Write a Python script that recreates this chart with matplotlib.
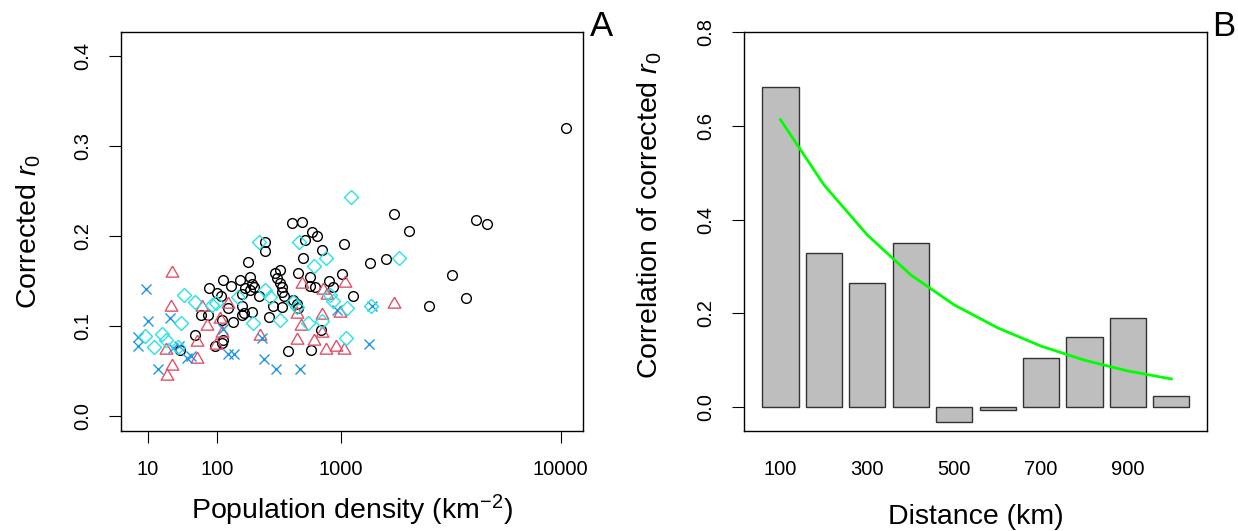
import numpy as np
import matplotlib
matplotlib.use('Agg')
import matplotlib.pyplot as plt
from matplotlib.ticker import NullLocator

plt.rcParams['font.family'] = 'Liberation Sans'
plt.rcParams['mathtext.fontset'] = 'custom'
plt.rcParams['mathtext.rm'] = 'Liberation Sans'
plt.rcParams['mathtext.it'] = 'Liberation Sans:italic'

# panel A: population density (km^-2) vs corrected r0, four groups
black_x = [464, 549, 645, 704, 579, 285, 285, 760, 1043, 564, 203, 1479, 345, 378, 358, 378, 391,
           519, 628, 628, 680, 844, 895, 1010, 1177, 80, 116, 138, 98, 109, 170, 211, 219, 229,
           190, 177, 211, 255, 130, 179, 64, 79, 111, 144, 177, 187, 221, 310, 334, 389, 394,
           406, 477, 505, 514, 745, 54, 116, 111, 94, 34, 433, 638, 1990, 2371, 1807, 3780,
           4334, 2945, 10430, 4776, 5299]
black_y = [0.214, 0.215, 0.205, 0.200, 0.196, 0.193, 0.183, 0.184, 0.191, 0.176, 0.171, 0.170,
           0.159, 0.162, 0.153, 0.148, 0.143, 0.159, 0.154, 0.144, 0.143, 0.150, 0.143, 0.158,
           0.133, 0.142, 0.151, 0.144, 0.137, 0.133, 0.151, 0.154, 0.147, 0.143, 0.142, 0.136,
           0.140, 0.133, 0.120, 0.122, 0.112, 0.112, 0.107, 0.105, 0.112, 0.114, 0.116, 0.110,
           0.122, 0.121, 0.138, 0.133, 0.129, 0.124, 0.120, 0.096, 0.090, 0.085, 0.081, 0.078,
           0.073, 0.072, 0.074, 0.224, 0.206, 0.175, 0.157, 0.131, 0.122, 0.320, 0.218, 0.213]

cyan_x = [1145, 255, 528, 804, 669, 2119, 38.8, 54, 96, 285, 314, 477, 505, 853, 895, 1083,
          35.2, 223, 381, 611, 753, 1073, 8.7, 13.1, 17.7, 20.9, 32.2, 1507, 164, 86]
cyan_y = [0.243, 0.193, 0.193, 0.176, 0.167, 0.176, 0.134, 0.127, 0.126, 0.140, 0.132, 0.127,
          0.121, 0.135, 0.128, 0.120, 0.103, 0.104, 0.107, 0.104, 0.106, 0.087, 0.089, 0.077,
          0.091, 0.085, 0.077, 0.122, 0.132, 0.123]

red_x = [26.3, 24.6, 65.9, 130, 75.5, 106.6, 259, 111, 58.1, 96, 58, 25.7, 20.9, 21.3, 555,
         1061, 772, 986, 505, 547, 753, 760, 505, 669, 804, 925, 1046, 1990, 820]
red_y = [0.159, 0.121, 0.121, 0.124, 0.100, 0.108, 0.089, 0.092, 0.082, 0.079, 0.064, 0.056,
         0.074, 0.045, 0.147, 0.148, 0.140, 0.115, 0.113, 0.100, 0.112, 0.092, 0.085, 0.084,
         0.074, 0.077, 0.074, 0.124, 0.134]

blue_x = [8.94, 10.1, 24.2, 6.33, 6.07, 15.5, 26.4, 33.0, 42.7, 48.2, 130, 150, 269, 280, 351,
          530, 941, 1517, 1465, 116]
blue_y = [0.141, 0.106, 0.109, 0.088, 0.078, 0.052, 0.076, 0.078, 0.065, 0.067, 0.069, 0.069,
          0.087, 0.063, 0.052, 0.052, 0.118, 0.122, 0.080, 0.097]

# panel B: correlation by distance class
distance = [100, 200, 300, 400, 500, 600, 700, 800, 900, 1000]
correlation = [0.683, 0.328, 0.264, 0.350, -0.032, -0.006, 0.105, 0.149, 0.190, 0.024]
fitted = [0.613, 0.474, 0.367, 0.282, 0.218, 0.169, 0.130, 0.100, 0.077, 0.060]
dist_labels = [100, 300, 500, 700, 900]

fig = plt.figure(figsize=(12.38, 5.31), dpi=100)
W, H = 1238, 531

# equilateral triangle like R's pch 2
tri = [(0, 0.577), (-0.5, -0.289), (0.5, -0.289), (0, 0.577)]

ax1 = fig.add_axes([121 / W, 1 - 431 / H, 462 / W, 399 / H])
ax1.set_xscale('function', functions=(lambda x: np.power(np.clip(x, 0, None), 0.25),
                                      lambda u: np.power(u, 4)))
ms = dict(linestyle='none', markerfacecolor='none', markeredgewidth=1.0)
ax1.plot(black_x, black_y, marker='o', markersize=7, markeredgecolor='black', **ms)
ax1.plot(red_x, red_y, marker=tri, markersize=10.5, markeredgecolor='#DF536B', **ms)
ax1.plot(blue_x, blue_y, marker='x', markersize=7, markeredgecolor='#2297E6', **ms)
ax1.plot(cyan_x, cyan_y, marker='D', markersize=7.5, markeredgecolor='#28E2E5', **ms)
ax1.set_xlim(2.37, 11900)
ax1.set_ylim(-0.0164, 0.4264)
ax1.set_xticks([10, 100, 1000, 10000])
ax1.set_xticklabels(['10', '100', '1000', '10000'])
ax1.xaxis.set_minor_locator(NullLocator())
ax1.set_yticks([0, 0.1, 0.2, 0.3, 0.4])
ax1.set_yticklabels(['0.0', '0.1', '0.2', '0.3', '0.4'], rotation=90, va='center')
ax1.tick_params(direction='out', length=8.6, width=0.8, labelsize=14.5, pad=12)
ax1.set_xlabel('Population density (km$^{-2}$)', fontsize=20.5)
ax1.set_ylabel('Corrected $\\it{r}_0$', fontsize=20.5)
ax1.xaxis.set_label_coords(0.5, -0.2)
ax1.yaxis.set_label_coords(-0.2, 0.5)
ax1.xaxis.label.set_va('center')
ax1.yaxis.label.set_va('center')

ax2 = fig.add_axes([744 / W, 1 - 431 / H, 463 / W, 399 / H])
ax2.bar(distance, correlation, width=100 / 1.2, color='#BEBEBE', edgecolor='#333333', linewidth=1)
ax2.plot(distance, fitted, color='#00FF00', linewidth=2)
ax2.set_xlim(16, 1082)
ax2.set_ylim(-0.051, 0.8)
ax2.set_xticks(dist_labels)
ax2.set_xticklabels([str(d) for d in dist_labels])
ax2.set_yticks([0, 0.2, 0.4, 0.6, 0.8])
ax2.set_yticklabels(['0.0', '0.2', '0.4', '0.6', '0.8'], rotation=90, va='center')
ax2.tick_params(direction='out', length=8.6, width=0.8, labelsize=14.5, pad=12)
ax2.tick_params(axis='x', length=0, pad=20.6)
ax2.set_xlabel('Distance (km)', fontsize=20.5)
ax2.set_ylabel('Correlation of corrected $\\it{r}_0$', fontsize=20.5)
ax2.xaxis.set_label_coords(0.5, -0.215)
ax2.yaxis.set_label_coords(-0.203, 0.54)
ax2.xaxis.label.set_va('center')
ax2.yaxis.label.set_va('center')

for ax in (ax1, ax2):
    for s in ax.spines.values():
        s.set_linewidth(1.0)

fig.text(601 / W, 1 - 27 / H, 'A', fontsize=25, ha='center', va='center')
fig.text(1224 / W, 1 - 27 / H, 'B', fontsize=25, ha='center', va='center')

fig.savefig('out.png', dpi=100)
